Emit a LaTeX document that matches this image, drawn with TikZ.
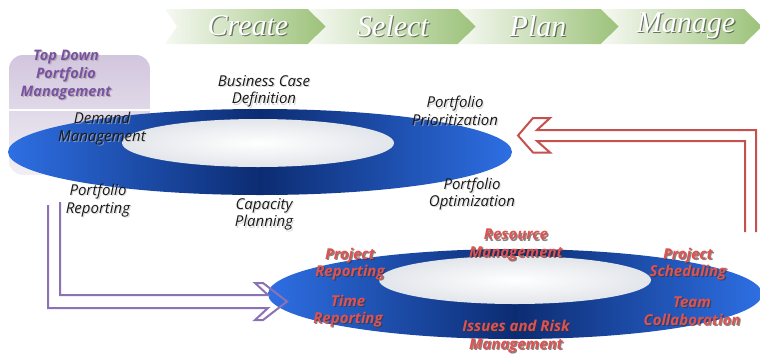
\documentclass[tikz,border=0pt]{standalone}
\usepackage{fontspec}
\setmainfont{Open Sans}
\newfontfamily\bannerfont{Liberation Serif}
\definecolor{ringblue}{HTML}{2E6FE3}
\definecolor{ringnavy}{HTML}{0C2C72}
\definecolor{holegray}{HTML}{E2E5EA}
\definecolor{chevgreen}{HTML}{9CC27A}
\definecolor{chevlight}{HTML}{F6F9F2}
\definecolor{purp}{HTML}{7A52A0}
\definecolor{purpline}{HTML}{8C72B4}
\definecolor{redtxt}{HTML}{E0524F}
\definecolor{redline}{HTML}{C4514E}
\definecolor{boxtop}{HTML}{D2C6DE}
\definecolor{boxbot}{HTML}{F1EFF4}
\newcommand{\slbl}[6]{%
  \node[#4, text=#5, opacity=.6] (#1s) at ({#2+1.2},{#3+1.2}) {#6};
  \node[#4] (#1) at (#2,#3) {#6};}
\tikzset{
  blk/.style={inner sep=0pt, align=center, text=black!90, font=\fontsize{15}{17.5}\selectfont\itshape},
  redl/.style={inner sep=0pt, align=center, text=redtxt, font=\fontsize{15}{17.5}\selectfont\bfseries\itshape},
  purl/.style={inner sep=0pt, align=center, text=purp, font=\fontsize{14.5}{18}\selectfont\bfseries\itshape},
  bann/.style={inner sep=0pt, text=white, font=\fontsize{30}{32}\selectfont\bannerfont\itshape},
  chev/.style={left color=chevlight, right color=chevgreen},
  hollow/.style={line width=2pt, line join=miter}
}
\begin{document}
\begin{tikzpicture}[x=1pt,y=-1pt]
\useasboundingbox (0,0) rectangle (760,354);
% banner chevrons
\shade[chev] (165,9) -- (308,9) -- (326,26.5) -- (308,44) -- (165,44) -- (177,26.5) -- cycle;
\shade[chev] (308,9) -- (458,9) -- (476,26.5) -- (458,44) -- (308,44) -- (326,26.5) -- cycle;
\shade[chev] (458,9) -- (601,9) -- (619,26.5) -- (601,44) -- (458,44) -- (476,26.5) -- cycle;
\shade[chev] (601,9) -- (744,9) -- (762,26.5) -- (744,44) -- (601,44) -- (619,26.5) -- cycle;
\slbl{create}{248}{26}{bann}{black!85}{Create}
\slbl{select}{393}{26}{bann}{black!85}{Select}
\slbl{plan}{538}{26}{bann}{black!85}{Plan}
\slbl{manage}{686}{26}{bann}{black!85}{Manage}
% top down box
\shade[top color=boxtop, bottom color=boxbot, rounded corners=14pt] (9,55) rectangle (150,175);
\draw[white, line width=1.5pt] (9,110) -- (150,110);
% upper ring
\shade[left color=ringblue, right color=ringblue, middle color=ringnavy] (260,152) ellipse [x radius=252, y radius=43];
\shade[inner color=white, outer color=holegray] (258,143) ellipse [x radius=136, y radius=24];
% lower ring
\shade[left color=ringblue, right color=ringblue, middle color=ringnavy] (515,294) ellipse [x radius=247, y radius=45];
\shade[inner color=white, outer color=holegray] (515,280) ellipse [x radius=136, y radius=24];
% labels upper
\slbl{td}{66}{75}{purl}{black!40}{Top Down\\Portfolio\\Management}
\slbl{bcd}{264}{91.5}{blk}{black!25}{Business Case\\Definition}
\slbl{pp}{455}{111}{blk}{black!25}{Portfolio\\Prioritization}
\slbl{dm}{102}{128.5}{blk}{black!25}{Demand\\Management}
\slbl{prep}{98}{200.5}{blk}{black!25}{Portfolio\\Reporting}
\slbl{cp}{264}{214.5}{blk}{black!25}{Capacity\\Planning}
\slbl{po}{472}{194}{blk}{black!25}{Portfolio\\Optimization}
% labels lower
\slbl{rm}{516}{245}{redl}{black!80}{Resource\\Management}
\slbl{pjr}{350}{264}{redl}{black!80}{Project\\Reporting}
\slbl{pjs}{688}{264}{redl}{black!80}{Project\\Scheduling}
\slbl{tr}{348}{311}{redl}{black!80}{Time\\Reporting}
\slbl{tc}{692}{311}{redl}{black!80}{Team\\Collaboration}
\slbl{irm}{516}{336.5}{redl}{black!80}{Issues and Risk\\Management}
% purple hollow arrow
\draw[hollow, purpline] (60,202) -- (60,295) -- (268,295) -- (255,283) -- (263,283) -- (287,301.5) -- (263,320) -- (255,320) -- (268,308) -- (48,308) -- (48,205);
% red hollow arrow
\draw[hollow, redline] (745,232) -- (745,141) -- (537,141) -- (550,152.5) -- (533,152.5) -- (518,135.5) -- (533,118) -- (550,118) -- (537,130) -- (756,130) -- (756,232);
\end{tikzpicture}
\end{document}
